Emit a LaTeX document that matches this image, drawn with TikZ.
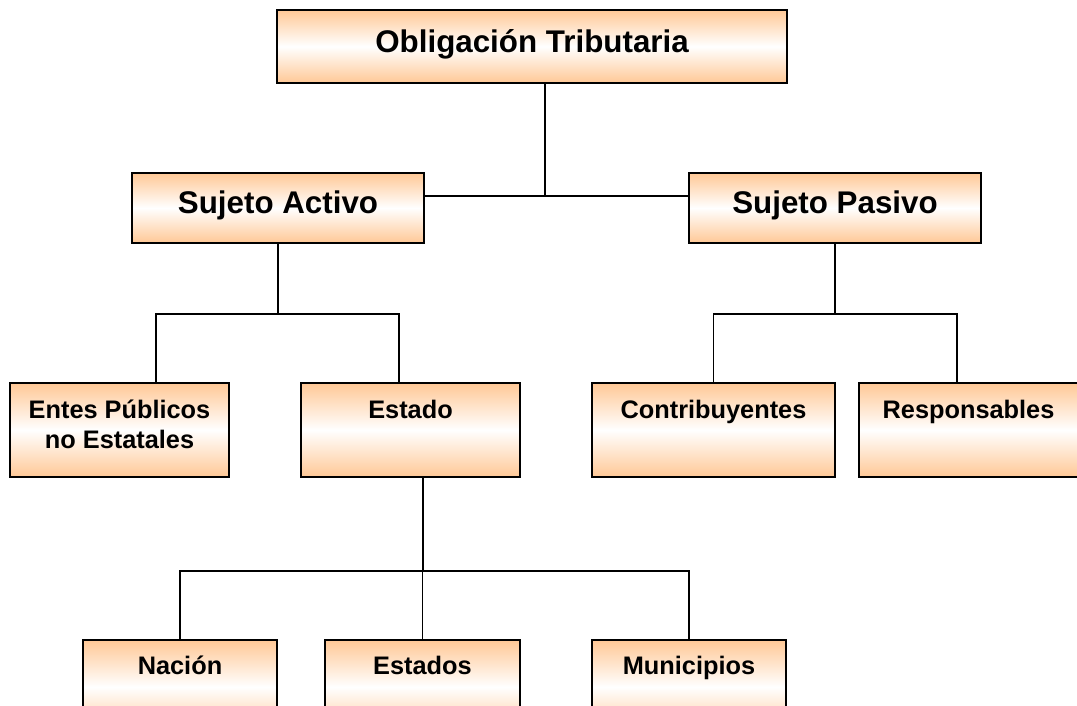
\documentclass[tikz,border=0pt]{standalone}
\usepackage{fontspec}
\setmainfont{Liberation Sans}
\usetikzlibrary{positioning}
\definecolor{boxorange}{RGB}{255,200,150}

\begin{document}
\begin{tikzpicture}[
    x = 0.75pt, y = -0.75pt, % pixel grid, y going down
    line width = 1pt % connector style
    ]

    \tikzset{box/.style={
    draw = black,
    line width = 1.5pt,
    top color = boxorange,
    bottom color = boxorange,
    middle color = white,
    inner sep = 0pt,
    anchor = north west
    }}
    \tikzset{big/.style={box, font=\bfseries\fontsize{23.5}{28}\selectfont}}
    \tikzset{small/.style={box, font=\bfseries\fontsize{19}{23}\selectfont,
    text height = 26.25pt, text depth = 44.25pt}}
    \tikzset{low/.style={small, text height = 25.5pt, text depth = 45pt}}

    \useasboundingbox (0,0) rectangle (1077,706);
    \clip (0,0) rectangle (1077,706);

    \node[big, minimum width=382.5pt, text height=32.25pt, text depth=22.5pt] (obl) at (276,9) {Obligación Tributaria};
    \node[big, minimum width=219pt, text height=30pt, text depth=22.5pt] (act) at (131,172) {Sujeto Activo};
    \node[big, minimum width=219pt, text height=30pt, text depth=22.5pt] (pas) at (688,172) {Sujeto Pasivo};

    \node[small, minimum width=164.25pt] (ent) at (9,382) {\begin{tabular}[t]{@{}c@{}}Entes Públicos\\no Estatales\end{tabular}};
    \node[small, minimum width=164.25pt] (est) at (300,382) {Estado};
    \node[small, minimum width=182.25pt] (con) at (591,382) {Contribuyentes};
    \node[small, minimum width=164.25pt] (res) at (858,382) {Responsables};

    \node[low, minimum width=145.5pt] (nac) at (82,639) {Nación};
    \node[low, minimum width=146.25pt] (eds) at (324,639) {Estados};
    \node[low, minimum width=145.5pt] (mun) at (591,639) {Municipios};

    % top level
    \coordinate (trunk) at ([xshift=9.75pt]obl.south);
    \coordinate (actbus) at ([yshift=9pt]act.east);
    \coordinate (pasbus) at ([yshift=9pt]pas.west);
    \draw (actbus) -- (pasbus);
    \draw (trunk) -- (trunk |- actbus);

    % sujeto activo
    \coordinate (entin) at ([xshift=27.375pt]ent.north);
    \coordinate (estin) at ([xshift=-8.625pt]est.north);
    \path (act.south) ++(0,70) coordinate (actdown);
    \draw (act.south) -- (actdown);
    \draw (entin) |- (actdown) -| (estin);

    % sujeto pasivo
    \coordinate (resin) at ([xshift=-8.625pt]res.north);
    \path (pas.south) ++(0,70) coordinate (pasdown);
    \draw (pas.south) -- (pasdown);
    \draw (con.north) |- (pasdown) -| (resin);

    % estado
    \coordinate (estout) at ([xshift=9.375pt]est.south);
    \path (estout) ++(0,93) coordinate (estdown);
    \draw (estout) -- (estdown);
    \draw (nac.north) |- (estdown) -| (mun.north);
    \draw (eds.north) -- (eds.north |- estdown);
\end{tikzpicture}
\end{document}
